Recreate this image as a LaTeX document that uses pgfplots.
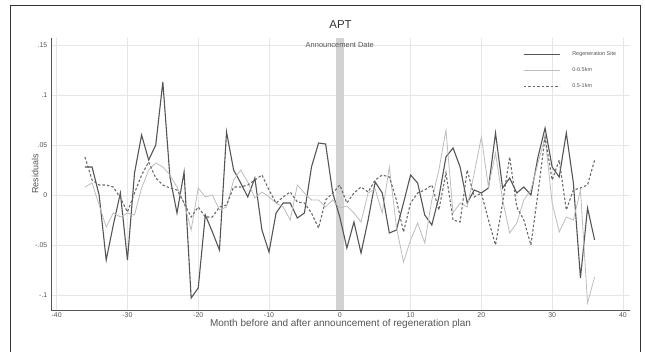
\documentclass[border=0pt]{standalone}
\usepackage{pgfplots}
\pgfplotsset{compat=1.18}
\usepackage{fontspec}
\setmainfont{Liberation Sans}
\definecolor{darkl}{HTML}{555555}
\definecolor{lightl}{HTML}{BDBDBD}
\definecolor{dashl}{HTML}{6A6A6A}
\definecolor{gridc}{HTML}{E6E6E6}
\definecolor{bandc}{HTML}{D2D2D2}
\begin{document}
\begin{tikzpicture}
\useasboundingbox (-51bp,-42bp) rectangle (594bp,310bp);
\begin{axis}[
  at={(0,0)}, anchor=south west,
  scale only axis, width=579bp, height=272bp,
  xmin=-40.8, xmax=41, ymin=-0.115, ymax=0.157,
  axis lines=left, axis line style={draw=darkl, line width=0.8bp, -},
  xtick={-40,-30,...,40},
  ytick={-0.1,-0.05,0,0.05,0.1,0.15},
  yticklabels={-.1,-.05,0,.05,.1,.15},
  grid=major, major grid style={draw=gridc, line width=0.6bp},
  tick style={draw=none},
  tick label style={font=\fontsize{7}{8}\selectfont, text=darkl},
  /pgf/number format/assume math mode=true,
  xticklabel style={yshift=3bp},
  yticklabel style={xshift=2bp},
  xlabel={Month before and after announcement of regeneration plan},
  xlabel style={font=\fontsize{10}{11}\selectfont, text=darkl, yshift=5bp},
  ylabel={Residuals},
  ylabel style={font=\fontsize{9}{10}\selectfont, text=darkl, yshift=-10bp},
  title={APT},
  title style={font=\fontsize{11.5}{12}\selectfont, text=black!80, yshift=0bp},
  legend style={draw=none, fill=none, at={(0.985,0.965)}, anchor=north east,
    font=\fontsize{5.5}{6}\selectfont, text=darkl, row sep=6.5bp},
  legend cell align=left,
  legend image code/.code={\draw[#1] (0bp,0bp) -- (36bp,0bp); \path (46bp,0bp);},
  clip=false,
]
\fill[bandc] (axis cs:-0.55,-0.115) rectangle (axis cs:0.55,0.157);
\addplot[darkl, line width=1.1bp] coordinates {
(-36,0.028) (-35,0.028) (-34,0.000) (-33,-0.065) (-32,-0.030) (-31,0.002)
(-30,-0.065) (-29,0.022) (-28,0.060) (-27,0.035) (-26,0.050) (-25,0.113)
(-24,0.018) (-23,-0.018) (-22,0.023) (-21,-0.103) (-20,-0.093) (-19,-0.020)
(-18,-0.037) (-17,-0.055) (-16,0.063) (-15,0.025) (-14,0.012) (-13,-0.002)
(-12,0.017) (-11,-0.035) (-10,-0.057) (-9,-0.018) (-8,-0.008) (-7,-0.008)
(-6,-0.023) (-5,-0.018) (-4,0.028) (-3,0.052) (-2,0.051) (-1,0.002)
(0,-0.022) (1,-0.053) (2,-0.027) (3,-0.058) (4,-0.025) (5,0.013)
(6,0.002) (7,-0.038) (8,-0.035) (9,-0.008) (10,0.020) (11,0.012)
(12,-0.020) (13,-0.030) (14,-0.002) (15,0.038) (16,0.047) (17,0.028)
(18,-0.008) (19,0.005) (20,0.002) (21,0.007) (22,0.062) (23,0.007)
(24,0.017) (25,0.002) (26,0.008) (27,0.000) (28,0.038) (29,0.067)
(30,0.028) (31,0.018) (32,0.062) (33,0.012) (34,-0.083) (35,-0.013) (36,-0.045)
};
\addlegendentry{Regeneration Site}
\addplot[lightl, line width=0.8bp] coordinates {
(-36,0.008) (-35,0.012) (-34,-0.010) (-33,-0.032) (-32,-0.018) (-31,-0.022)
(-30,-0.018) (-29,-0.020) (-28,0.007) (-27,0.025) (-26,0.032) (-25,0.028)
(-24,0.020) (-23,0.008) (-22,-0.008) (-21,-0.035) (-20,0.007) (-19,-0.002)
(-18,0.000) (-17,-0.015) (-16,-0.012) (-15,0.015) (-14,0.025) (-13,0.013)
(-12,-0.003) (-11,0.003) (-10,-0.002) (-9,-0.008) (-8,-0.012) (-7,-0.025)
(-6,0.010) (-5,0.002) (-4,-0.005) (-3,-0.005) (-2,-0.012) (-1,-0.005)
(0,-0.013) (1,-0.011) (2,-0.018) (3,-0.027) (4,0.002) (5,0.006)
(6,-0.018) (7,0.028) (8,-0.032) (9,-0.067) (10,-0.045) (11,-0.028)
(12,-0.048) (13,-0.005) (14,0.025) (15,0.065) (16,-0.018) (17,-0.008)
(18,-0.012) (19,0.022) (20,0.058) (21,0.008) (22,0.042) (23,-0.005)
(24,-0.038) (25,-0.028) (26,-0.005) (27,0.005) (28,0.032) (29,0.058)
(30,-0.008) (31,-0.037) (32,-0.022) (33,-0.025) (34,0.005) (35,-0.108) (36,-0.082)
};
\addlegendentry{0-0.5km}
\addplot[dashl, line width=1.1bp, dash pattern=on 2.5bp off 2bp] coordinates {
(-36,0.038) (-35,0.015) (-34,0.010) (-33,0.010) (-32,0.008) (-31,-0.003)
(-30,-0.017) (-29,0.002) (-28,0.020) (-27,0.033) (-26,0.017) (-25,0.010)
(-24,0.007) (-23,0.005) (-22,-0.008) (-21,-0.022) (-20,-0.012) (-19,-0.022)
(-18,-0.022) (-17,-0.012) (-16,-0.010) (-15,0.008) (-14,0.008) (-13,0.010)
(-12,0.015) (-11,0.020) (-10,0.005) (-9,-0.008) (-8,-0.002) (-7,0.003)
(-6,-0.007) (-5,-0.008) (-4,-0.018) (-3,-0.033) (-2,-0.005) (-1,0.002)
(0,0.010) (1,-0.008) (2,0.002) (3,0.008) (4,0.003) (5,0.015)
(6,0.020) (7,0.018) (8,-0.005) (9,-0.037) (10,-0.008) (11,0.002)
(12,0.005) (13,0.010) (14,-0.015) (15,0.022) (16,-0.025) (17,-0.027)
(18,0.025) (19,-0.002) (20,0.002) (21,-0.025) (22,-0.050) (23,-0.008)
(24,0.038) (25,-0.012) (26,-0.025) (27,-0.050) (28,0.002) (29,0.058)
(30,0.015) (31,0.035) (32,-0.015) (33,0.005) (34,0.007) (35,0.010) (36,0.035)
};
\addlegendentry{0.5-1km}
\node[font=\fontsize{7.5}{8}\selectfont, text=darkl] at (axis cs:0,0.150) {Announcement Date};
\end{axis}
\draw[black!80, line width=1bp] (-40bp,-50bp) -- (-40bp,304bp) -- (589bp,304bp) -- (589bp,-50bp);
\end{tikzpicture}
\end{document}
